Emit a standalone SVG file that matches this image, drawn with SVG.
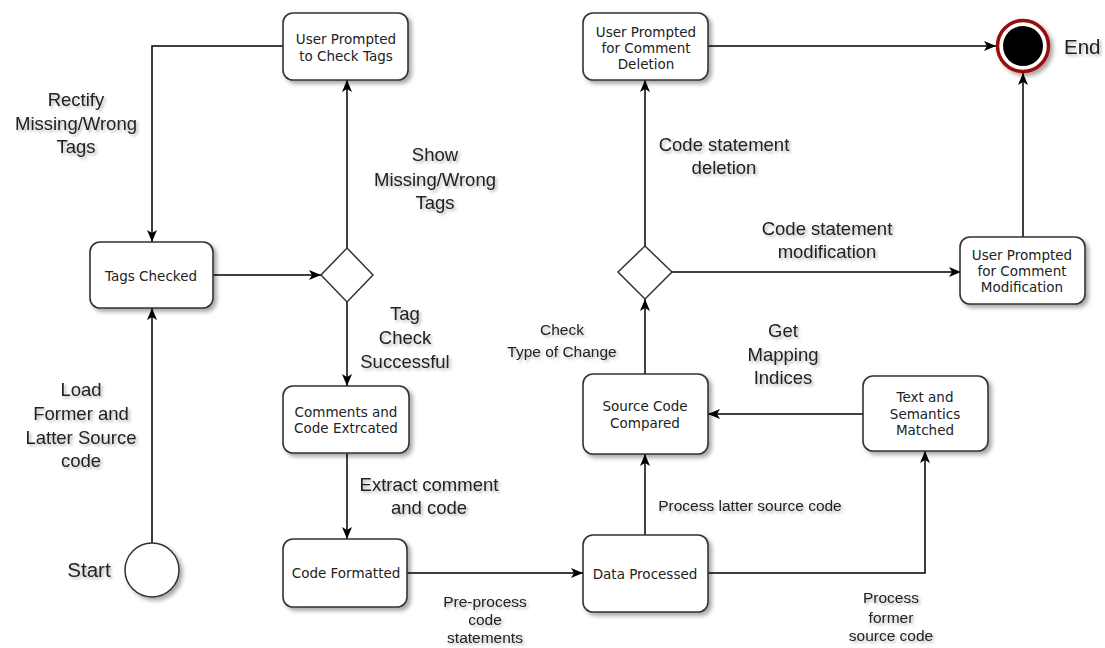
<svg xmlns="http://www.w3.org/2000/svg" width="1105" height="648" viewBox="0 0 1105 648">
<defs>
<filter id="sh" x="-20%" y="-20%" width="150%" height="150%">
<feDropShadow dx="3" dy="3" stdDeviation="2" flood-color="#000" flood-opacity="0.35"/>
</filter>
<filter id="tsh" x="-10%" y="-20%" width="130%" height="160%">
<feDropShadow dx="2" dy="2" stdDeviation="1.5" flood-color="#000" flood-opacity="0.3"/>
</filter>
<marker id="arr" markerUnits="userSpaceOnUse" markerWidth="13" markerHeight="11" refX="12" refY="5" orient="auto">
<path d="M0,0 L12,5 L0,10 L3,5 Z" fill="#000"/>
</marker>
</defs>
<style>
.box{fill:#fff;stroke:#333;stroke-width:1.6;filter:url(#sh)}
.dia{fill:#fff;stroke:#333;stroke-width:1.5}
.nt{font-family:"DejaVu Sans",Verdana,sans-serif;font-size:13.5px;fill:#222;text-anchor:middle;dominant-baseline:central}
.lb{font-family:"Liberation Sans",Arial,sans-serif;font-size:18.5px;fill:#222;text-anchor:middle;dominant-baseline:central;filter:url(#tsh)}
.sl{font-family:"Liberation Sans",Arial,sans-serif;font-size:15.5px;fill:#222;text-anchor:middle;dominant-baseline:central;filter:url(#tsh)}
.ln{fill:none;stroke:#000;stroke-width:1.5;marker-end:url(#arr)}
</style>
<rect width="1105" height="648" fill="#fff"/>

<g id="connectors">
<path class="ln" d="M283,46 H152 V242"/>
<path class="ln" d="M152,543 V308"/>
<path class="ln" d="M213,275 H321"/>
<path class="ln" d="M347,248 V80"/>
<path class="ln" d="M347,302 V386"/>
<path class="ln" d="M347,453 V539"/>
<path class="ln" d="M407,573 H583"/>
<path class="ln" d="M645,535 V454"/>
<path class="ln" d="M708,573 H925 V451"/>
<path class="ln" d="M863,414 H708"/>
<path class="ln" d="M645,374 V299"/>
<path class="ln" d="M645,246 V80"/>
<path class="ln" d="M672,272 H961"/>
<path class="ln" d="M708,46 H996"/>
<path class="ln" d="M1023,237 V73"/>
</g>

<g id="labels">
<text class="lb" x="76" y="99">Rectify</text>
<text class="lb" x="76" y="123">Missing/Wrong</text>
<text class="lb" x="76" y="146">Tags</text>
<text class="lb" x="435" y="154">Show</text>
<text class="lb" x="435" y="179">Missing/Wrong</text>
<text class="lb" x="435" y="202">Tags</text>
<text class="lb" x="405" y="313">Tag</text>
<text class="lb" x="405" y="337">Check</text>
<text class="lb" x="405" y="361">Successful</text>
<text class="lb" x="81" y="389">Load</text>
<text class="lb" x="81" y="413">Former and</text>
<text class="lb" x="81" y="437">Latter Source</text>
<text class="lb" x="81" y="460">code</text>
<text class="lb" x="429" y="484">Extract comment</text>
<text class="lb" x="429" y="507">and code</text>
<text class="sl" x="485" y="601">Pre-process</text>
<text class="sl" x="485" y="619">code</text>
<text class="sl" x="485" y="637">statements</text>
<text class="sl" x="562" y="329">Check</text>
<text class="sl" x="562" y="351">Type of Change</text>
<text class="lb" x="783" y="330">Get</text>
<text class="lb" x="783" y="354">Mapping</text>
<text class="lb" x="783" y="377">Indices</text>
<text class="sl" x="750" y="505">Process latter source code</text>
<text class="sl" x="891" y="597">Process</text>
<text class="sl" x="891" y="617">former</text>
<text class="sl" x="891" y="635">source code</text>
<text class="lb" x="724" y="144">Code statement</text>
<text class="lb" x="724" y="167">deletion</text>
<text class="lb" x="827" y="228">Code statement</text>
<text class="lb" x="827" y="251">modification</text>
</g>

<g id="start">
<circle cx="152" cy="570" r="27" fill="#fff" stroke="#333" stroke-width="1.5" filter="url(#sh)"/>
<text class="lb" x="89" y="569" style="font-size:20.5px">Start</text>
</g>

<g id="end">
<circle cx="1023" cy="46" r="25.5" fill="#fff" stroke="#9a1010" stroke-width="3.5" filter="url(#sh)"/>
<circle cx="1023" cy="46" r="20" fill="#000"/>
<text class="lb" x="1064" y="46" style="font-size:20.5px;text-anchor:start">End</text>
</g>

<g id="node-check-tags">
<rect class="box" x="283" y="13" width="125" height="67" rx="10"/>
<text class="nt" x="346" y="39">User Prompted</text>
<text class="nt" x="346" y="56">to Check Tags</text>
</g>

<g id="node-tags-checked">
<rect class="box" x="90" y="242" width="123" height="66" rx="10"/>
<text class="nt" x="151" y="276">Tags Checked</text>
</g>

<g id="decision-tags">
<polygon class="dia" points="347,248 373,275 347,302 321,275"/>
</g>

<g id="node-comments">
<rect class="box" x="283" y="386" width="126" height="67" rx="10"/>
<text class="nt" x="346" y="412">Comments and</text>
<text class="nt" x="346" y="428">Code Extrcated</text>
</g>

<g id="node-code-formatted">
<rect class="box" x="283" y="539" width="124" height="68" rx="10"/>
<text class="nt" x="346" y="573">Code Formatted</text>
</g>

<g id="node-data-processed">
<rect class="box" x="583" y="535" width="125" height="77" rx="10"/>
<text class="nt" x="645" y="574">Data Processed</text>
</g>

<g id="node-source-compared">
<rect class="box" x="583" y="374" width="125" height="80" rx="10"/>
<text class="nt" x="645" y="406">Source Code</text>
<text class="nt" x="645" y="423">Compared</text>
</g>

<g id="node-text-semantics">
<rect class="box" x="863" y="376" width="125" height="75" rx="10"/>
<text class="nt" x="925" y="397">Text and</text>
<text class="nt" x="925" y="414">Semantics</text>
<text class="nt" x="925" y="430">Matched</text>
</g>

<g id="decision-change">
<polygon class="dia" points="645,246 672,272 645,299 618,272"/>
</g>

<g id="node-deletion">
<rect class="box" x="583" y="13" width="125" height="67" rx="10"/>
<text class="nt" x="646" y="32">User Prompted</text>
<text class="nt" x="646" y="48">for Comment</text>
<text class="nt" x="646" y="64">Deletion</text>
</g>

<g id="node-modification">
<rect class="box" x="960" y="237" width="125" height="67" rx="10"/>
<text class="nt" x="1022" y="255">User Prompted</text>
<text class="nt" x="1022" y="271">for Comment</text>
<text class="nt" x="1022" y="287">Modification</text>
</g>
</svg>
